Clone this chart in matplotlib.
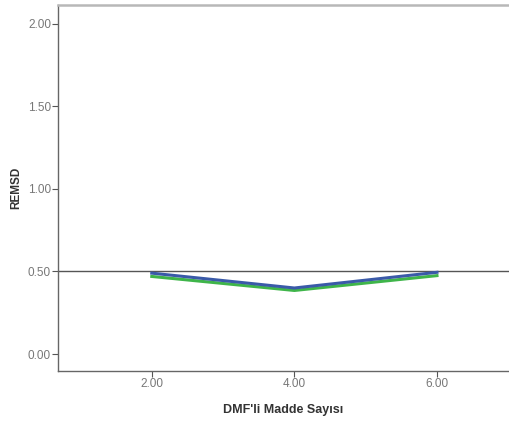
import matplotlib
matplotlib.use('Agg')
import matplotlib.pyplot as plt

plt.rcParams['font.family'] = ['Liberation Sans', 'DejaVu Sans']

# item counts and REMSD values per series
madde_sayisi = [2.0, 4.0, 6.0]
remsd_a = [0.49, 0.40, 0.495]
remsd_b = [0.47, 0.385, 0.475]
yticks = [0.0, 0.5, 1.0, 1.5, 2.0]
xticks = [2.0, 4.0, 6.0]
ref_value = 0.50

fig = plt.figure(figsize=(5.09, 4.23), dpi=100)
ax = fig.add_axes([58/509, 1-371/423, 1-58/509, (371-5)/423])

ax.axhline(ref_value, color='#555555', lw=1.0, zorder=1)
ax.plot(madde_sayisi, remsd_b, color='#3fb54a', lw=2.2, zorder=2)
ax.plot(madde_sayisi, remsd_a, color='#3a5aa8', lw=2.2, zorder=3)

ax.set_xlim(0.685, 7.01)
ax.set_ylim(-0.103, 2.115)
ax.set_xticks(xticks)
ax.set_xticklabels(['{:.2f}'.format(v) for v in xticks])
ax.set_yticks(yticks)
ax.set_yticklabels(['{:.2f}'.format(v) for v in yticks])
ax.tick_params(direction='out', length=4, width=0.8, colors='#555555',
               labelsize=8.5, labelcolor='#777777', pad=1)

for side in ['left', 'bottom']:
    ax.spines[side].set_color('#666666')
    ax.spines[side].set_linewidth(1.0)
ax.spines['top'].set_color('#b8b8b8')
ax.spines['top'].set_linewidth(1.8)
ax.spines['right'].set_visible(False)

ax.set_ylabel('REMSD', fontsize=8.5, fontweight='bold', color='#333333', labelpad=4)
ax.set_xlabel("DMF'li Madde Sayısı", fontsize=9, fontweight='bold', color='#333333', labelpad=10)

fig.savefig('out.png', dpi=100)
